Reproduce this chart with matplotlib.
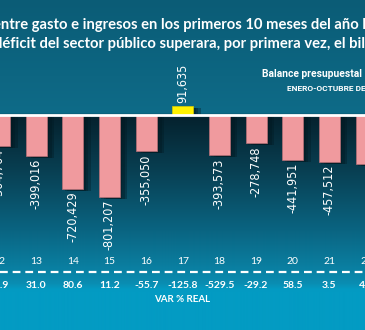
import numpy as np
import matplotlib.pyplot as plt
from matplotlib.colors import LinearSegmentedColormap
from matplotlib.patches import Rectangle

# Balance presupuestal, enero-octubre (millones de pesos)
years = [12, 13, 14, 15, 16, 17, 18, 19, 20, 21, 22]
balance = [-304704, -399016, -720429, -801207, -355050, 91635,
           -393573, -278748, -441951, -457512, -476983]
var_real = ["-7.9", "31.0", "80.6", "11.2", "-55.7", "-125.8",
            "-529.5", "-29.2", "58.5", "3.5", "4.6"]

W, H = 365, 330
fig = plt.figure(figsize=(W / 100, H / 100), dpi=100)
ax = fig.add_axes([0, 0, 1, 1])
ax.set_axis_off()

k = 9800.0          # units per pixel
zero_px = 115       # zero line, pixels from top
spacing = 36.65     # pixels between bars
x0 = 12 + 0.5 / spacing
xlim = (x0, x0 + W / spacing)
ylim = (-(H - zero_px) * k, zero_px * k)

def fy(px):
    # pixel row from top -> figure fraction
    return 1 - px / H

def fx(px):
    return px / W

cond = dict(family="DejaVu Sans", fontstretch="condensed")

# background gradient
stops = [(0.0, "#0b5c76"), (113 / H, "#0e6b88"), (117 / H, "#05222e"),
         (170 / H, "#083f52"), (230 / H, "#0a6481"), (268 / H, "#0a7fa1"),
         (284 / H, "#0a8db2"), (290 / H, "#039bc3"), (1.0, "#039bc3")]
cmap = LinearSegmentedColormap.from_list("bg", stops)
grad = np.linspace(0, 1, 660).reshape(-1, 1)
ax.imshow(grad, cmap=cmap, aspect="auto", extent=[xlim[0], xlim[1], ylim[0], ylim[1]],
          zorder=0, interpolation="bicubic")
ax.set_xlim(*xlim)
ax.set_ylim(*ylim)

bw = 21 / spacing
shadow_dx = [2.5, 5, 7.5]
for m, v in zip(years, balance):
    # soft shadow to the right
    for dx in shadow_dx:
        ax.add_patch(Rectangle((m - bw / 2 + dx / spacing, min(v, 0) - 2 * k), bw,
                               abs(v) + (2 * k if v < 0 else 0),
                               facecolor="#021820", edgecolor="none", alpha=0.35, zorder=1))
    color = "#fff200" if v > 0 else "#f09a9e"
    ax.bar(m, v, width=bw, color=color, edgecolor="#b87077" if v < 0 else "#d9cc00",
           linewidth=0.5, zorder=3)
    lab = f"{v:,.0f}"
    off, va = ((0, -3), "top") if v < 0 else ((0, 3), "bottom")
    ax.annotate(lab, (m, v), xytext=off, textcoords="offset pixels",
                rotation=90, ha="center", va=va, color="white",
                fontsize=9, zorder=4, **cond)

ax.axhline(0, color="white", lw=2, zorder=5)

# year row, dashed line and variation row
for m, vr in zip(years, var_real):
    xp = (m - x0) * spacing
    fig.text(fx(xp), fy(262), str(m), color="white", fontsize=7.5,
             ha="center", va="center", family="Lato")
    fig.text(fx(xp), fy(285), vr, color="white", fontsize=7.5,
             ha="center", va="center", family="Lato", fontweight="bold")
fig.add_artist(plt.Line2D([0, 1], [fy(272), fy(272)], color="white", lw=1.6,
                          dashes=(3.5, 2.2)))
fig.text(fx(182.5), fy(300), "VAR % REAL", color="white", fontsize=7,
         ha="center", va="center", family="Lato", fontweight="bold")

# titles
fig.text(fx(-7), fy(29), "entre gasto e ingresos en los primeros 10 meses del año hizo",
         color="white", fontsize=10.6, family="Lato", fontweight="bold",
         ha="left", va="baseline")
fig.text(fx(-5.5), fy(48), "déficit del sector público superara, por primera vez, el billón",
         color="white", fontsize=10.6, family="Lato", fontweight="bold",
         ha="left", va="baseline")
fig.text(fx(262), fy(77), "Balance presupuestal", color="white", fontsize=7.4,
         fontweight="bold", ha="left", va="baseline", family="Roboto")
fig.text(fx(287), fy(91), "ENERO-OCTUBRE DE CADA AÑO", color="white", fontsize=6.0,
         fontweight="bold", ha="left", va="baseline", family="Roboto",
         fontstretch="condensed")

fig.savefig("out.png", dpi=100)
